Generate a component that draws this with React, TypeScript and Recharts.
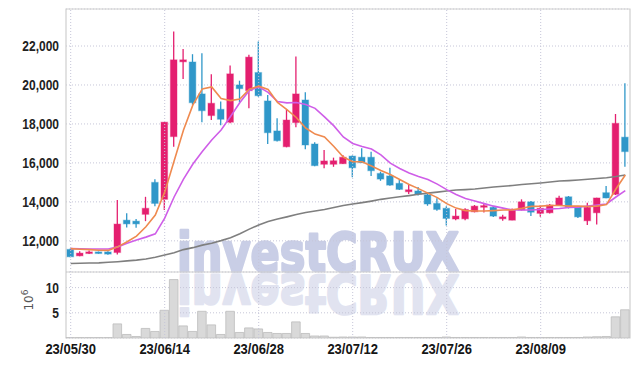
import React from 'react';
import {
  ComposedChart,
  Bar,
  Line,
  XAxis,
  YAxis,
  CartesianGrid,
  ReferenceLine,
  ReferenceArea,
  Label,
} from 'recharts';

// ---------- data ----------
const dates = [
  '23/05/30', '23/05/31', '23/06/01', '23/06/02', '23/06/05', '23/06/07', '23/06/08', '23/06/09', '23/06/12', '23/06/13',
  '23/06/14', '23/06/15', '23/06/16', '23/06/19', '23/06/20', '23/06/21', '23/06/22', '23/06/23', '23/06/26', '23/06/27',
  '23/06/28', '23/06/29', '23/06/30', '23/07/03', '23/07/04', '23/07/05', '23/07/06', '23/07/07', '23/07/10', '23/07/11',
  '23/07/12', '23/07/13', '23/07/14', '23/07/17', '23/07/18', '23/07/19', '23/07/20', '23/07/21', '23/07/24', '23/07/25',
  '23/07/26', '23/07/27', '23/07/28', '23/07/31', '23/08/01', '23/08/02', '23/08/03', '23/08/04', '23/08/07', '23/08/08',
  '23/08/09', '23/08/10', '23/08/11', '23/08/14', '23/08/16', '23/08/17', '23/08/18', '23/08/21', '23/08/22', '23/08/23',
];

const opens = [
  11560, 11230, 11350, 11400, 11430, 11400, 13060, 13010, 13360, 15000,
  14130, 17350, 21190, 21180, 19540, 18430, 18750, 18090, 20000, 19710,
  20640, 19180, 17640, 16830, 18070, 19230, 16970, 15930, 15930, 15960,
  16350, 16290, 16290, 15460, 15330, 14950, 14520, 14560, 14360, 13920,
  13670, 13120, 13130, 13490, 13750, 13720, 13130, 13060, 13580, 14000,
  13410, 13440, 13840, 14260, 13770, 13030, 13440, 14470, 14390, 17320,
];
const highs = [
  11600, 11470, 11500, 11450, 11470, 14090, 13410, 13120, 14260, 15160,
  18100, 22740, 21850, 21580, 21630, 20550, 19150, 21000, 20220, 21550,
  22230, 19490, 18290, 18750, 21460, 19630, 17060, 16660, 16270, 16400,
  16380, 16750, 16570, 15550, 15750, 15120, 14860, 14760, 14490, 14180,
  13780, 13640, 13670, 13840, 13890, 13800, 13340, 13660, 14130, 14040,
  13840, 13890, 14310, 14300, 13790, 13950, 14210, 14810, 18510, 20090,
];
const lows = [
  11160, 11210, 11320, 11340, 11280, 11300, 12690, 12670, 13010, 13780,
  13580, 16830, 20310, 18980, 18090, 18200, 17930, 18030, 19110, 18810,
  19400, 16970, 17100, 16800, 17830, 16700, 15830, 15720, 15800, 15950,
  15260, 15990, 15330, 15080, 14830, 14610, 14400, 14330, 13800, 13540,
  12790, 13060, 13060, 13460, 13460, 13220, 13030, 13050, 13560, 13270,
  13230, 13400, 13820, 13660, 13170, 12810, 12840, 14180, 14350, 15800,
];
const closes = [
  11180, 11370, 11430, 11380, 11320, 12860, 12870, 12870, 13670, 13920,
  18090, 21290, 21290, 19090, 18680, 19060, 18240, 20570, 19810, 21430,
  19450, 17550, 17140, 18200, 19540, 16920, 15860, 16100, 16110, 16290,
  15750, 16010, 15600, 15170, 14860, 14640, 14620, 14400, 13890, 13610,
  13150, 13270, 13610, 13780, 13780, 13270, 13230, 13610, 14000, 13470,
  13670, 13840, 14200, 13720, 13230, 13720, 14200, 14200, 18030, 16580,
];

// moving-average curves
const maShort = [
  11600, 11570, 11550, 11520, 11510, 11690, 11950, 12240, 12720, 13320,
  14500, 16100, 17690, 18980, 19800, 19900, 19310, 19200, 19280, 19780,
  19940, 19770, 19100, 18740, 18330, 17790, 17480, 17330, 16840, 16300,
  16060, 16060, 15840, 15610, 15400, 15150, 14890, 14680, 14450, 14220,
  13910, 13680, 13550, 13530, 13530, 13550, 13580, 13590, 13670, 13770,
  13780, 13810, 13810, 13780, 13780, 13760, 13780, 13860, 14660, 15380,
];
const maMid = [
  11600, 11590, 11580, 11580, 11580, 11690, 11870, 12040, 12190, 12360,
  13170, 14250, 15170, 15940, 16580, 17180, 17690, 18380, 19100, 19720,
  19900, 19620, 19150, 19080, 19100, 19000, 18800, 18360, 17900, 17330,
  17000, 16840, 16710, 16410, 15990, 15710, 15480, 15300, 15150, 14910,
  14630, 14380, 14170, 14040, 13910, 13780, 13680, 13580, 13580, 13580,
  13610, 13630, 13660, 13710, 13730, 13790, 13840, 13890, 14250, 14580,
];
const maLong = [
  10840, 10850, 10860, 10870, 10900, 10930, 10970, 11010, 11070, 11160,
  11270, 11390, 11550, 11650, 11780, 11880, 12010, 12160, 12360, 12600,
  12810, 12990, 13120, 13230, 13350, 13450, 13530, 13610, 13710, 13810,
  13890, 13960, 14040, 14130, 14200, 14260, 14320, 14390, 14450, 14500,
  14560, 14610, 14630, 14660, 14710, 14760, 14800, 14840, 14890, 14930,
  14970, 15020, 15070, 15090, 15120, 15160, 15200, 15240, 15300, 15380,
];

// volume in millions of shares
const volumes = [
  0.05, 0.05, 0.05, 0.05, 0.05, 2.8, 0.7, 0.3, 1.9, 1.3,
  5.5, 11.6, 2.4, 1.3, 5.3, 2.6, 0.7, 5.3, 1.1, 2.0,
  1.8, 1.1, 0.9, 0.9, 3.2, 0.9, 0.4, 0.4, 0.15, 0.2,
  0.2, 0.2, 0.1, 0.1, 0.1, 0.1, 0.1, 0.1, 0.1, 0.1,
  0.2, 0.1, 0.1, 0.1, 0.1, 0.1, 0.1, 0.1, 0.2, 0.1,
  0.1, 0.1, 0.1, 0.1, 0.1, 0.2, 0.25, 0.3, 4.2, 5.6,
];

const priceTicks = [12000, 14000, 16000, 18000, 20000, 22000];
const priceDomain = [10400, 23900];
const volumeTicks = [5, 10];
const volumeDomain = [0, 13.1];
const dateTicks = ['23/05/30', '23/06/14', '23/06/28', '23/07/12', '23/07/26', '23/08/09'];

// ---------- styles ----------
const UP = '#e41f6f';
const DOWN = '#2f97c9';
const GRID = '#c6c6d8';
const BORDER = '#cfcfcf';
const TICK_FONT = "'Liberation Sans', Arial, sans-serif";
const MARK_FONT = "'DejaVu Sans', sans-serif";

const priceData = dates.map((date, i) => ({
  date,
  open: opens[i],
  high: highs[i],
  low: lows[i],
  close: closes[i],
  maShort: maShort[i],
  maMid: maMid[i],
  maLong: maLong[i],
}));

const volumeData = dates.map((date, i) => ({ date, volume: volumes[i] }));

const Candle = (props: any) => {
  const { x, y, width, height, payload } = props;
  if (x == null || y == null || payload == null) return null;
  const { open, close, high, low } = payload;
  const top = Math.min(y, y + height);
  const bottom = Math.max(y, y + height);
  const span = high - low;
  const toY = (v: number) => (span === 0 ? top : top + ((high - v) / span) * (bottom - top));
  const up = close >= open;
  const color = up ? UP : DOWN;
  const yO = toY(open);
  const yC = toY(close);
  let bTop = Math.min(yO, yC);
  let bH = Math.abs(yO - yC);
  if (bH < 1.6) {
    bTop -= (1.6 - bH) / 2;
    bH = 1.6;
  }
  const cx = x + width / 2;
  return (
    <g>
      <line x1={cx} x2={cx} y1={top} y2={bottom} stroke={color} strokeWidth={1.3} />
      <rect x={x} y={bTop} width={width} height={bH} fill={color} stroke={color} strokeOpacity={0.35} strokeWidth={1.2} />
    </g>
  );
};

const YTick = (props: any) => {
  const { x, y, payload } = props;
  const v = Number(payload?.value);
  const label = v >= 1000 ? v.toLocaleString('en-US') : String(v);
  return (
    <text
      x={0}
      y={0}
      dy="0.36em"
      transform={`translate(${x},${y}) scale(0.8,1)`}
      textAnchor="end"
      fontFamily={TICK_FONT}
      fontWeight={700}
      fontSize={15}
      fill="#222"
    >
      {label}
    </text>
  );
};

const XTick = (props: any) => {
  const { x, y, payload } = props;
  return (
    <text
      x={0}
      y={0}
      dy="0.72em"
      transform={`translate(${x},${y}) scale(0.84,1)`}
      textAnchor="middle"
      fontFamily={TICK_FONT}
      fontWeight={700}
      fontSize={15.5}
      fill="#151515"
    >
      {payload?.value}
    </text>
  );
};

const VolUnit = (props: any) => {
  const vb = props.viewBox || { x: 0, y: 0, width: 66, height: 66 };
  const cx = vb.x + 33;
  const cy = vb.y + vb.height / 2 - 5;
  return (
    <text
      x={cx}
      y={cy}
      transform={`rotate(-90, ${cx}, ${cy})`}
      textAnchor="middle"
      fontFamily="'DejaVu Sans', sans-serif"
      fontSize={12}
      fill="#555"
    >
      10
      <tspan dy={-5} fontSize={9}>6</tspan>
    </text>
  );
};

export default function App() {
  return (
    <div style={{ position: 'absolute', left: 0, top: 0, width: 639, height: 366, background: '#fff' }}>
      {/* watermark with its mirror image */}
      <svg width={639} height={366} style={{ position: 'absolute', left: 0, top: 0 }}>
        <text
          x={177}
          y={271}
          fontFamily={MARK_FONT}
          fontWeight={700}
          fontSize={54}
          fill="#c9cee6"
          stroke="#c9cee6"
          strokeWidth={2.6}
          strokeLinejoin="round"
          textLength={282}
          lengthAdjust="spacingAndGlyphs"
        >
          investCRUX
        </text>
        <g transform="translate(0,546) scale(1,-1)">
          <text
            x={177}
            y={271}
            fontFamily={MARK_FONT}
            fontWeight={700}
            fontSize={54}
            fill="#e1e3f0"
            stroke="#e1e3f0"
            strokeWidth={2.6}
            strokeLinejoin="round"
            textLength={282}
            lengthAdjust="spacingAndGlyphs"
          >
            investCRUX
          </text>
        </g>
      </svg>

      {/* price panel */}
      <div style={{ position: 'absolute', left: 0, top: 0 }}>
        <ComposedChart width={639} height={272} data={priceData} margin={{ top: 9, right: 9, bottom: 0, left: 0 }}>
          <CartesianGrid vertical={false} stroke={GRID} strokeDasharray="1 2" />
          <XAxis dataKey="date" hide />
          <YAxis
            domain={priceDomain}
            ticks={priceTicks}
            allowDataOverflow
            width={66}
            axisLine={false}
            tickLine={false}
            tickSize={0}
            tickMargin={7}
            tick={<YTick />}
          />
          {dateTicks.map((d) => (
            <ReferenceLine key={d} x={d} stroke={GRID} strokeDasharray="1 2" />
          ))}
          <ReferenceArea y1={priceDomain[0]} y2={priceDomain[1]} fill="none" stroke={BORDER} strokeWidth={1.2} />
          <Bar
            dataKey={(d: any) => [d.low, d.high]}
            barSize={6.6}
            shape={<Candle />}
            isAnimationActive={false}
          />
          <Line type="linear" dataKey="maLong" stroke="#7f7f7f" strokeWidth={1.6} dot={false} activeDot={false} isAnimationActive={false} />
          <Line type="linear" dataKey="maMid" stroke="#cf5ee8" strokeWidth={1.6} dot={false} activeDot={false} isAnimationActive={false} />
          <Line type="linear" dataKey="maShort" stroke="#ef8a4f" strokeWidth={1.6} dot={false} activeDot={false} isAnimationActive={false} />
        </ComposedChart>
      </div>

      {/* volume panel */}
      <div style={{ position: 'absolute', left: 0, top: 272 }}>
        <ComposedChart width={639} height={94} data={volumeData} margin={{ top: 0, right: 9, bottom: 0, left: 0 }}>
          <CartesianGrid vertical={false} stroke={GRID} strokeDasharray="1 2" />
          <XAxis
            dataKey="date"
            ticks={dateTicks}
            interval={0}
            height={28}
            axisLine={false}
            tickLine={false}
            tickSize={0}
            tickMargin={5}
            tick={<XTick />}
          />
          <YAxis
            domain={volumeDomain}
            ticks={volumeTicks}
            allowDataOverflow
            width={66}
            axisLine={false}
            tickLine={false}
            tickSize={0}
            tickMargin={7}
            tick={<YTick />}
          >
            <Label content={<VolUnit />} />
          </YAxis>
          {dateTicks.map((d) => (
            <ReferenceLine key={d} x={d} stroke={GRID} strokeDasharray="1 2" />
          ))}
          <Bar dataKey="volume" barSize={8.6} fill="#d9d9d9" stroke="#bcbcbc" strokeWidth={0.8} isAnimationActive={false} />
          <ReferenceArea y1={volumeDomain[0]} y2={volumeDomain[1]} fill="none" stroke={BORDER} strokeWidth={1.2} />
        </ComposedChart>
      </div>
    </div>
  );
}
